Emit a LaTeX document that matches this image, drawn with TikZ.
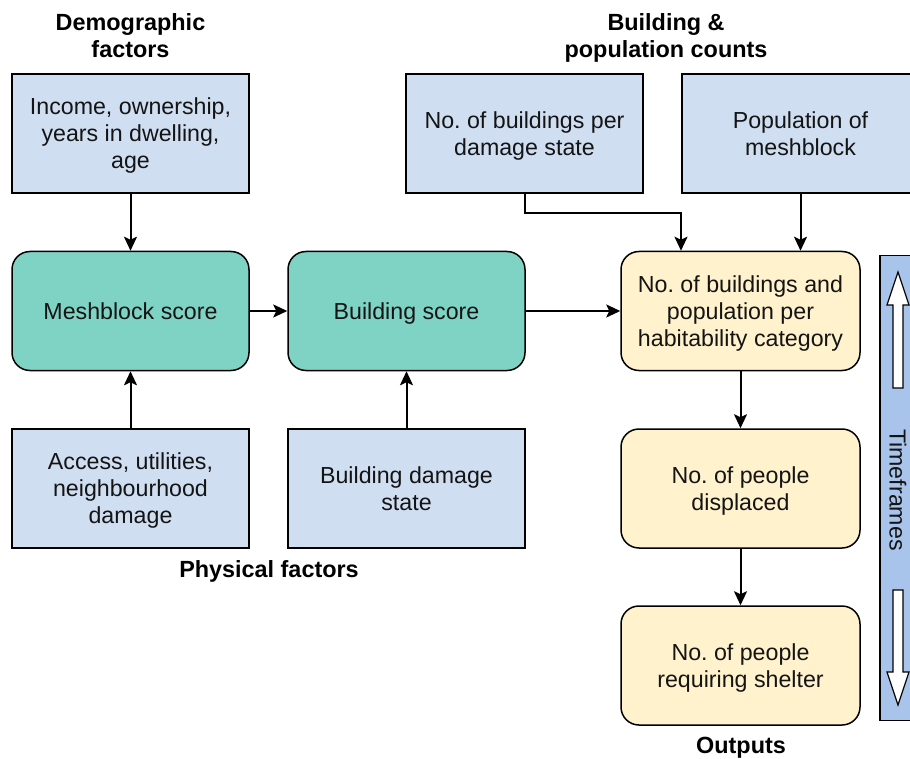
\documentclass[tikz,border=0pt]{standalone}
\usepackage{fontspec}
\setmainfont{Liberation Sans}
\usetikzlibrary{arrows.meta}
\frenchspacing
\definecolor{boxblue}{RGB}{208,222,242}
\definecolor{boxteal}{RGB}{127,211,196}
\definecolor{boxyellow}{RGB}{255,242,204}
\definecolor{barblue}{RGB}{169,196,235}
\definecolor{txt}{RGB}{20,20,20}
\tikzset{
  basebox/.style={draw=black, line width=1.5pt, minimum width=237pt, minimum height=119pt, inner sep=0pt},
  inbox/.style={basebox, fill=boxblue},
  scorebox/.style={basebox, fill=boxteal, rounded corners=18pt},
  outbox/.style={basebox, fill=boxyellow, rounded corners=18pt},
  hdr/.style={font=\bfseries\fontsize{23.4}{27}\selectfont, align=center, text=black},
  lbl/.style={font=\fontsize{23.2}{27}\selectfont, align=center, text=txt, inner sep=0pt},
  arr/.style={draw=black, line width=2pt, -{Stealth[length=14pt,width=13pt,inset=3pt]}},
  blockarrow/.style={draw=black, line width=1.2pt, fill=white, line join=miter}
}
\begin{document}\frenchspacing
\begin{tikzpicture}[x=1pt,y=-1pt]
\path[use as bounding box] (0,0) rectangle (910,759);
\clip (0,0) rectangle (910,759);
\fill[white] (0,0) rectangle (910,759);

% input boxes
\node[inbox] (income) at (130.5,133.5) {};
\node[inbox] (access) at (130.5,488.5) {};
\node[inbox] (bdmg) at (406.5,488.5) {};
\node[inbox] (nbdmg) at (524.5,133.5) {};
\node[inbox] (pop) at (800.5,133.5) {};

% score boxes
\node[scorebox] (mesh) at (130.5,311) {};
\node[scorebox] (bscore) at (406.5,311) {};

% output boxes
\node[outbox, minimum width=239pt] (hab) at (740.5,311) {};
\node[outbox, minimum width=239pt] (disp) at (740.5,488.5) {};
\node[outbox, minimum width=239pt] (shel) at (740.5,665.5) {};

% box texts (struts keep the lines evenly placed)
\node[lbl, yshift=-2.8pt] (tincome) at (income) {\strut Income, ownership,\\\strut years in dwelling,\\\strut age};
\node[lbl, yshift=-2.8pt] (taccess) at (access) {\strut Access, utilities,\\\strut neighbourhood\\\strut damage};
\node[lbl, yshift=-2.8pt] (tbdmg) at (bdmg) {\strut Building damage\\\strut state};
\node[lbl, yshift=-2.8pt] (tnbdmg) at (nbdmg) {\strut No. of buildings per\\\strut damage state};
\node[lbl, yshift=-2.8pt] (tpop) at (pop) {\strut Population of\\\strut meshblock};
\node[lbl, yshift=-2.8pt] (tmesh) at (mesh) {\strut Meshblock score};
\node[lbl, yshift=-2.8pt] (tbscore) at (bscore) {\strut Building score};
\node[lbl, yshift=-2.8pt] (thab) at (hab) {\strut No. of buildings and\\\strut population per\\\strut habitability category};
\node[lbl, yshift=-2.8pt] (tdisp) at (disp) {\strut No. of people\\\strut displaced};
\node[lbl, yshift=-2.8pt] (tshel) at (shel) {\strut No. of people\\\strut requiring shelter};

% headers
\node[hdr, inner sep=0pt, yshift=-2.8pt] (hdemo) at (130.5,35.5) {\strut Demographic\\\strut factors};
\node[hdr, inner sep=0pt, yshift=-2.8pt] (hcount) at (666,35.5) {\strut Building \&\\\strut population counts};
\node[hdr, inner sep=0pt, yshift=-2.8pt] (hphys) at (269,569) {\strut Physical factors};
\node[hdr, inner sep=0pt, yshift=-2.8pt] (hout) at (741,745) {\strut Outputs};

% timeframes bar
\node[draw=black, line width=1.5pt, fill=barblue, minimum width=38pt, minimum height=465pt, inner sep=0pt] (bar) at (899,488) {};
\node[rotate=-90, font=\fontsize{23.2}{27}\selectfont, text=txt] (tf) at (898,490) {Timeframes};
\draw[blockarrow] (893,388) -- (893,305) -- (887,305) -- (898,272) -- (909,305) -- (903,305) -- (903,388) -- cycle;
\draw[blockarrow] (893,590) -- (893,672) -- (887,672) -- (898,705) -- (909,672) -- (903,672) -- (903,590) -- cycle;

% connectors
\draw[arr] (income.south) -- (mesh.north);
\draw[arr] (access.north) -- (mesh.south);
\draw[arr] (mesh.east) -- (bscore.west);
\draw[arr] (bdmg.north) -- (bscore.south);
\draw[arr] (bscore.east) -- (hab.west);
\draw[arr] (nbdmg.south) -- ++(0,19) -| ([xshift=-59.5pt]hab.north);
\draw[arr] (pop.south) -- (pop.south |- hab.north);
\draw[arr] (hab.south) -- (disp.north);
\draw[arr] (disp.south) -- (shel.north);
\end{tikzpicture}
\end{document}
